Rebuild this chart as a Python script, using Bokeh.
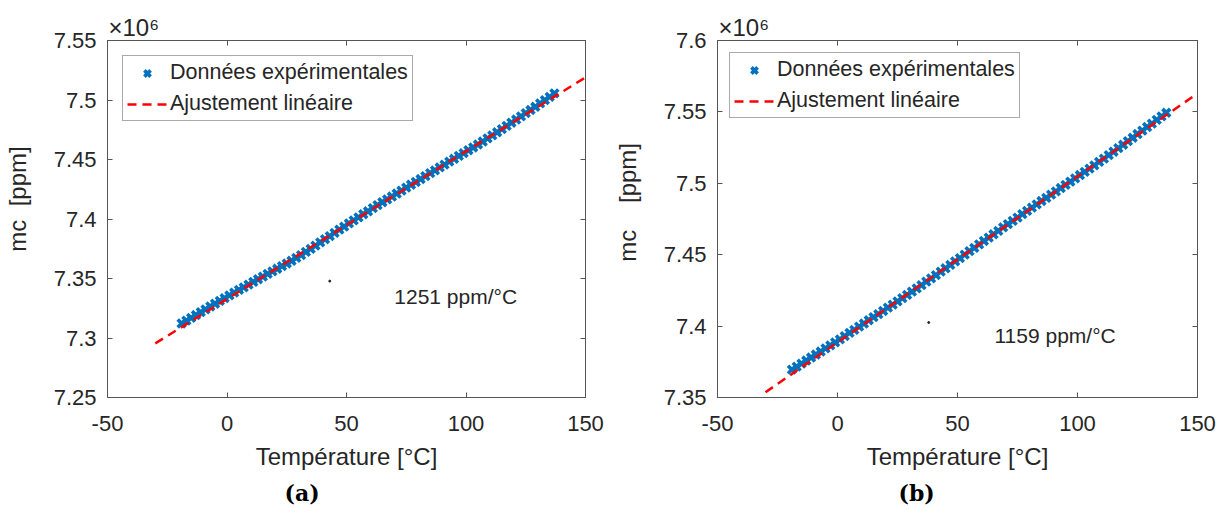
from bokeh.plotting import figure
from bokeh.models import Label, LinearAxis, FixedTicker, Range1d, CustomJSTickFormatter, Title
from bokeh.layouts import row
from bokeh.embed import file_html
from bokeh.resources import INLINE

# ---------------- data ----------------
temperature = [-19, -17, -15, -13, -11, -9, -7, -5, -3, -1, 1, 3, 5, 7, 9, 11, 13, 15, 17, 19,
               21, 23, 25, 27, 29, 31, 33, 35, 37, 39, 41, 43, 45, 47, 49, 51, 53, 55, 57, 59,
               61, 63, 65, 67, 69, 71, 73, 75, 77, 79, 81, 83, 85, 87, 89, 91, 93, 95, 97, 99,
               101, 103, 105, 107, 109, 111, 113, 115, 117, 119, 121, 123, 125, 127, 129, 131,
               133, 135, 137]

# mc in units of 1e6 ppm
mc_a = [7.3122, 7.3146, 7.3169, 7.3193, 7.3217, 7.3241, 7.3265, 7.3288, 7.3312, 7.3335,
        7.3358, 7.3381, 7.3404, 7.3426, 7.3449, 7.3472, 7.3494, 7.3516, 7.3539, 7.3560,
        7.3582, 7.3604, 7.3626, 7.3649, 7.3673, 7.3697, 7.3723, 7.3749, 7.3776, 7.3803,
        7.3830, 7.3856, 7.3883, 7.3910, 7.3936, 7.3963, 7.3989, 7.4014, 7.4040, 7.4065,
        7.4091, 7.4116, 7.4141, 7.4165, 7.4189, 7.4214, 7.4239, 7.4263, 7.4288, 7.4311,
        7.4336, 7.4360, 7.4385, 7.4409, 7.4434, 7.4457, 7.4482, 7.4506, 7.4530, 7.4554,
        7.4578, 7.4601, 7.4626, 7.4651, 7.4677, 7.4703, 7.4729, 7.4755, 7.4782, 7.4809,
        7.4836, 7.4863, 7.4890, 7.4916, 7.4943, 7.4971, 7.4999, 7.5027, 7.5055]

mc_b = [7.3695, 7.3716, 7.3737, 7.3759, 7.3780, 7.3801, 7.3822, 7.3844, 7.3865, 7.3886,
        7.3907, 7.3930, 7.3952, 7.3974, 7.3996, 7.4018, 7.4041, 7.4063, 7.4084, 7.4106,
        7.4129, 7.4151, 7.4173, 7.4196, 7.4219, 7.4242, 7.4264, 7.4287, 7.4311, 7.4334,
        7.4357, 7.4381, 7.4405, 7.4429, 7.4453, 7.4476, 7.4501, 7.4525, 7.4548, 7.4572,
        7.4596, 7.4620, 7.4643, 7.4667, 7.4691, 7.4714, 7.4737, 7.4760, 7.4784, 7.4807,
        7.4830, 7.4852, 7.4876, 7.4898, 7.4921, 7.4943, 7.4967, 7.4989, 7.5012, 7.5034,
        7.5058, 7.5080, 7.5103, 7.5126, 7.5150, 7.5173, 7.5197, 7.5221, 7.5246, 7.5270,
        7.5295, 7.5319, 7.5345, 7.5369, 7.5394, 7.5418, 7.5444, 7.5469, 7.5494]

fit_T = [-30, 150]
fit_a = [7.2955, 7.5190]
fit_b = [7.3537, 7.5629]

stray_T_a = [43]
stray_mc_a = [7.3478]
stray_T_b = [38]
stray_mc_b = [7.4025]

x_ticks = [-50, 0, 50, 100, 150]
x_tick_labels = ["-50", "0", "50", "100", "150"]
y_ticks_a = [7.25, 7.3, 7.35, 7.4, 7.45, 7.5, 7.55]
y_tick_labels_a = ["7.25", "7.3", "7.35", "7.4", "7.45", "7.5", "7.55"]
y_ticks_b = [7.35, 7.4, 7.45, 7.5, 7.55, 7.6]
y_tick_labels_b = ["7.35", "7.4", "7.45", "7.5", "7.55", "7.6"]

slope_text_a = "1251 ppm/°C"
slope_text_b = "1159 ppm/°C"

NB = "\u00a0"
ylabel_a = NB * 6 + "mc" + NB * 2 + "[ppm]"
ylabel_b = NB * 5 + "mc" + NB * 4 + "[ppm]"

# ---------------- style ----------------
FONT = "Liberation Sans"
TXT = "#262626"
AXC = "#555555"
BLUE = "#0072BD"
RED = "#FF0000"


def panel(width, bl, br, bt, bb, yr, yt, ytl, ylabel, mc, fit, stray_T, stray_mc,
          slope_text, slope_pos, caption, cap_offset, legend_margin):
    p = figure(width=width, height=516, x_range=Range1d(-50, 150), y_range=Range1d(*yr),
               output_backend="svg", toolbar_location=None,
               min_border_left=bl, min_border_right=br, min_border_top=bt, min_border_bottom=bb)
    p.xgrid.visible = False
    p.ygrid.visible = False
    p.outline_line_color = AXC
    p.outline_line_width = 1
    p.background_fill_color = "white"
    p.border_fill_color = "white"

    # exponent shown as the plot title, just above the frame's left corner
    p.title.text = "×10⁶"
    p.title.align = "left"
    p.title.offset = 1
    p.title.standoff = 0
    p.title.text_font = FONT
    p.title.text_font_size = "24px"
    p.title.text_font_style = "normal"
    p.title.text_color = TXT

    p.xaxis.ticker = FixedTicker(ticks=x_ticks)
    p.xaxis.major_label_overrides = dict(zip(x_ticks, x_tick_labels))
    p.yaxis.ticker = FixedTicker(ticks=yt)
    p.yaxis.major_label_overrides = dict(zip(yt, ytl))
    p.xaxis.axis_label = "Température [°C]"
    p.yaxis.axis_label = ylabel
    for ax in (p.xaxis, p.yaxis):
        ax.axis_line_color = AXC
        ax.major_tick_line_color = AXC
        ax.major_tick_in = 5
        ax.major_tick_out = 0
        ax.minor_tick_line_color = None
        ax.major_label_text_font = FONT
        ax.major_label_text_font_size = "22px"
        ax.major_label_text_color = TXT
        ax.axis_label_text_font = FONT
        ax.axis_label_text_font_size = "24px"
        ax.axis_label_text_font_style = "normal"
        ax.axis_label_text_color = TXT
    p.xaxis.major_label_standoff = 18
    p.xaxis.axis_label_standoff = 9
    p.yaxis.major_label_standoff = 11
    p.yaxis.axis_label_standoff = 20

    for loc, ticks in (("above", x_ticks), ("right", yt)):
        ax = LinearAxis(ticker=FixedTicker(ticks=ticks),
                        formatter=CustomJSTickFormatter(code="return ''"),
                        major_tick_in=5, major_tick_out=0, major_label_standoff=0,
                        major_label_text_font_size="1px",
                        minor_tick_line_color=None, axis_line_color=AXC,
                        major_tick_line_color=AXC)
        p.add_layout(ax, loc)

    p.add_layout(Title(text=caption, align="left", offset=cap_offset, standoff=11,
                       text_font="DejaVu Serif", text_font_size="22px",
                       text_font_style="bold", text_color="#000000"), "below")

    p.scatter(temperature, mc, marker="x", size=11, line_width=3.6, color=BLUE,
              legend_label="Données expérimentales")
    p.line(fit_T, fit, line_color=RED, line_width=2.5, line_dash="9 6",
           legend_label="Ajustement linéaire")
    p.scatter(stray_T, stray_mc, marker="circle", size=2, color="#202020")

    lg = p.legend[0]
    lg.location = "top_left"
    lg.margin = legend_margin
    lg.label_text_font = FONT
    lg.label_text_font_size = "21.5px"
    lg.label_text_color = TXT
    lg.border_line_color = AXC
    lg.border_line_width = 1
    lg.background_fill_color = "white"
    lg.background_fill_alpha = 1
    lg.glyph_width = 40
    lg.glyph_height = 22
    lg.label_height = 22
    lg.label_standoff = 3
    lg.spacing = 6
    lg.padding = 4

    p.add_layout(Label(x=slope_pos[0], y=slope_pos[1], text=slope_text,
                       text_font=FONT, text_font_size="21px", text_color=TXT,
                       text_baseline="alphabetic"))
    return p


pa = panel(610, 105, 25, 40, 114, (7.25, 7.55), y_ticks_a, y_tick_labels_a, ylabel_a,
           mc_a, fit_a, stray_T_a, stray_mc_a, slope_text_a, (70, 7.3345), "(a)", 177, 15)
pb = panel(619, 106, 32, 38, 119, (7.35, 7.6), y_ticks_b, y_tick_labels_b, ylabel_b,
           mc_b, fit_b, stray_T_b, stray_mc_b, slope_text_b, (65.4, 7.3932), "(b)", 181, 12)

layout = row(pa, pb)
open("out.html", "w").write(file_html(layout, INLINE))
